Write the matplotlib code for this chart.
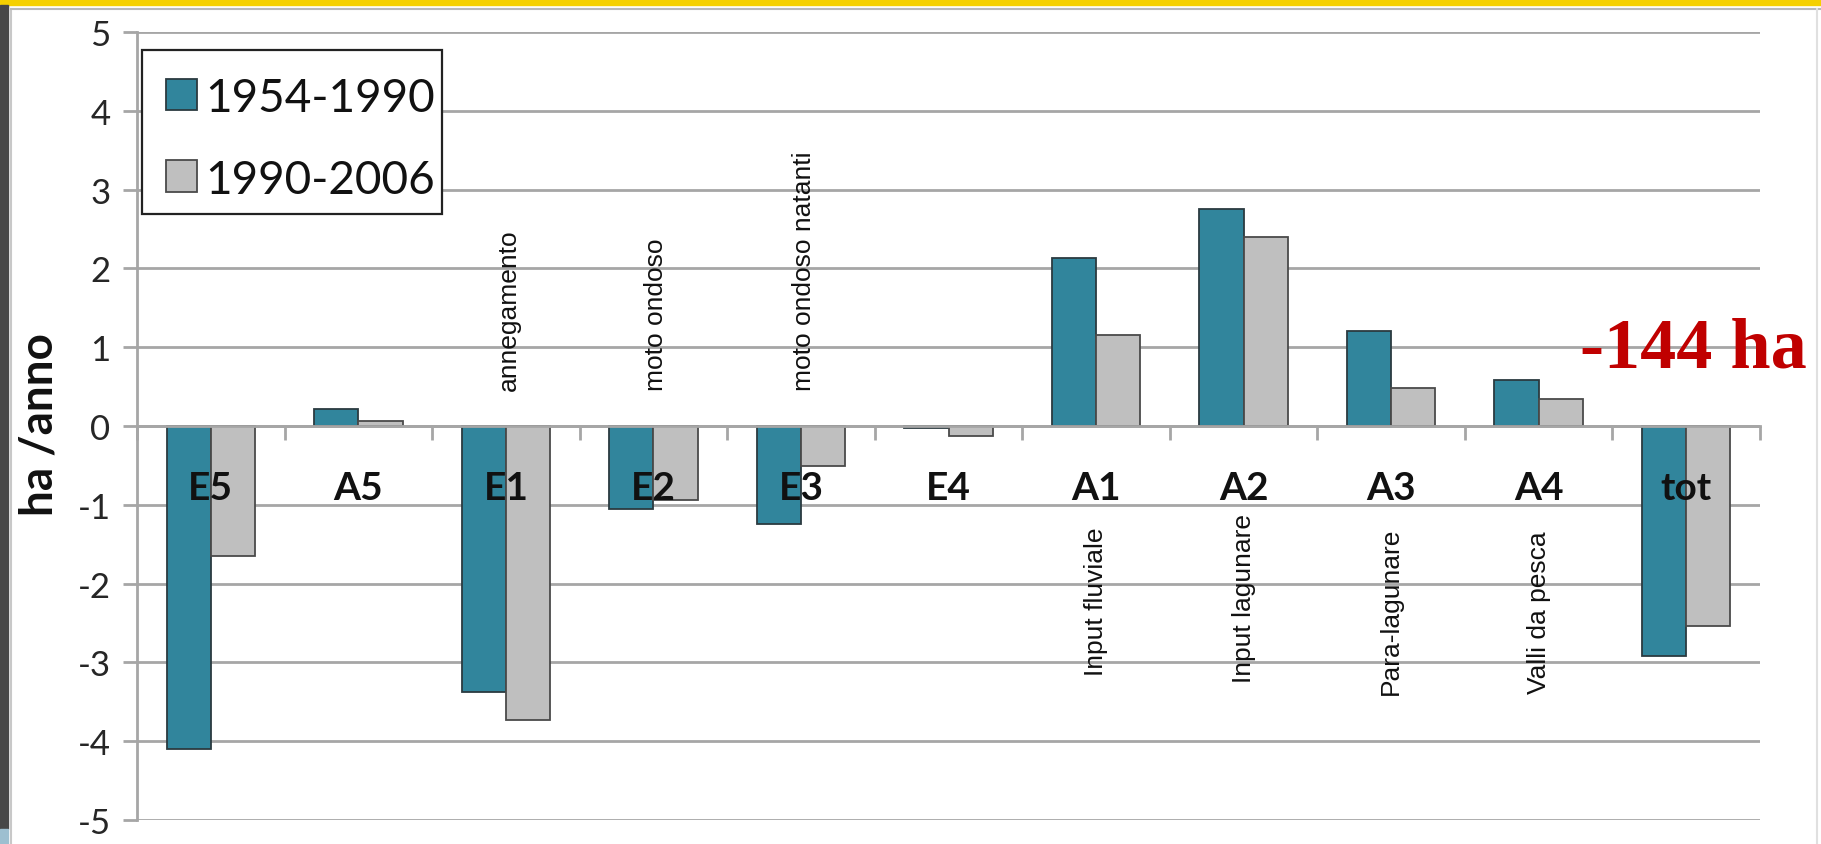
import numpy as np
import matplotlib
matplotlib.use("Agg")
from matplotlib import pyplot as plt
from matplotlib.patches import Rectangle
from matplotlib.lines import Line2D

plt.rcParams["axes.unicode_minus"] = False

# categories and the two periods (ha / anno)
categories = ["E5", "A5", "E1", "E2", "E3", "E4", "A1", "A2", "A3", "A4", "tot"]
period_labels = ["1954-1990", "1990-2006"]
values_1954_1990 = [-4.10, 0.21, -3.38, -1.05, -1.24, -0.03, 2.13, 2.76, 1.21, 0.58, -2.92]
values_1990_2006 = [-1.65, 0.06, -3.73, -0.94, -0.51, -0.13, 1.15, 2.40, 0.48, 0.34, -2.54]

# descriptive notes written vertically next to some categories
top_notes = {"E1": "annegamento", "E2": "moto ondoso", "E3": "moto ondoso natanti"}
bottom_notes = {"A1": "Input fluviale", "A2": "Input lagunare",
                "A3": "Para-lagunare", "A4": "Valli da pesca"}
bottom_note_tops = {"A1": -1.28, "A2": -1.10, "A3": -1.28, "A4": -1.33}
total_text = "-144 ha"

blue = "#31859C"
gray = "#BFBFBF"
grid_col = "#A6A6A6"

fig = plt.figure(figsize=(18.21, 8.45), dpi=100)
W, H = 1821.0, 845.0
ax = fig.add_axes([137 / W, 1 - 821 / H, (1760 - 137) / W, (821 - 33) / H])

x = np.arange(len(categories))
bw = 0.3
ax.bar(x - bw / 2, values_1954_1990, bw, color=blue, edgecolor="#2b3a40",
       linewidth=1.3, zorder=3)
ax.bar(x + bw / 2, values_1990_2006, bw, color=gray, edgecolor="#4a4a4a",
       linewidth=1.3, zorder=3)

ax.set_xlim(-0.5, len(categories) - 0.5)
ax.set_ylim(-5, 5)
ax.set_yticks(range(-5, 6))
ax.yaxis.grid(True, color=grid_col, linewidth=2)
ax.set_axisbelow(True)

for s in ["top", "right"]:
    ax.spines[s].set_visible(False)
ax.spines["left"].set_color(grid_col)
ax.spines["left"].set_linewidth(2)
ax.spines["bottom"].set_position(("data", 0))
ax.spines["bottom"].set_color(grid_col)
ax.spines["bottom"].set_linewidth(2)
ax.spines["bottom"].set_zorder(4)

# tick marks at the category boundaries, labels drawn as text
ax.set_xticks(np.arange(len(categories) + 1) - 0.5)
ax.set_xticklabels([])
ax.tick_params(axis="x", length=10, width=2, color=grid_col, direction="out")
ax.tick_params(axis="y", length=10, width=2, color=grid_col, pad=9,
               labelsize=25, labelcolor="#262626")
for lab in ax.get_yticklabels():
    lab.set_family("Lato")

for i, c in enumerate(categories):
    ax.text(i, -0.93, c, ha="center", va="baseline", fontsize=28,
            fontweight="bold", family="Lato", color="#111111", zorder=6)

for c, t in top_notes.items():
    i = categories.index(c)
    ax.text(i + 0.02, 0.46, t, rotation=90, ha="center", va="bottom",
            fontsize=19, family="Liberation Sans", color="#111111")
for c, t in bottom_notes.items():
    i = categories.index(c)
    ax.text(i, bottom_note_tops[c], t, rotation=90, ha="center", va="top",
            fontsize=19, family="Liberation Sans", color="#111111")

ax.text(9.28, 0.75, total_text, ha="left", va="baseline", fontsize=52,
        fontweight="bold", family="Liberation Serif", color="#C00000",
        zorder=6, clip_on=False)

fig.text(40 / W, 1 - 425 / H, "ha /anno", rotation=90, ha="center",
         va="center", fontsize=33, fontweight="bold", family="Lato",
         color="#111111")

# legend box drawn by hand (pixel layout of the original)
def fx(px):
    return px / W

def fy(py):
    return 1 - py / H

fig.patches.append(Rectangle((fx(142), fy(215)), (442 - 142) / W, (215 - 51) / H,
                             transform=fig.transFigure, facecolor="white",
                             edgecolor="#222222", linewidth=1.6, zorder=5))
for k, (lab, col, ec) in enumerate(zip(period_labels, [blue, gray],
                                       ["#2b3a40", "#4a4a4a"])):
    yc = 95 + k * 82
    fig.patches.append(Rectangle((fx(166), fy(yc + 15.5)), 31 / W, 31 / H,
                                 transform=fig.transFigure, facecolor=col,
                                 edgecolor=ec, linewidth=1.3, zorder=6))
    fig.text(fx(205), fy(yc), lab, ha="left", va="center_baseline",
             fontsize=33, family="Lato", color="#111111", zorder=7)

# slide decorations around the chart
fig.patches.append(Rectangle((0, 1 - 6 / H), 1, 6 / H, transform=fig.transFigure,
                             color="#F5D000", zorder=0))
fig.patches.append(Rectangle((0, 1 - 830 / H), 8 / W, (830 - 6) / H,
                             transform=fig.transFigure, color="#474747", zorder=0))
fig.patches.append(Rectangle((0, 0), 8 / W, 15 / H,
                             transform=fig.transFigure, color="#9DBFD0", zorder=0))
fig.lines.append(Line2D([11 / W, 11 / W], [0, 1 - 10 / H], transform=fig.transFigure,
                        color="#C8C8C8", linewidth=1.5))
fig.lines.append(Line2D([11 / W, 1], [1 - 10 / H, 1 - 10 / H], transform=fig.transFigure,
                        color="#B8B8B8", linewidth=1.5))
fig.lines.append(Line2D([1817 / W, 1817 / W], [0, 1 - 10 / H], transform=fig.transFigure,
                        color="#E0E0E0", linewidth=1.5))

fig.savefig("out.png", dpi=100)
